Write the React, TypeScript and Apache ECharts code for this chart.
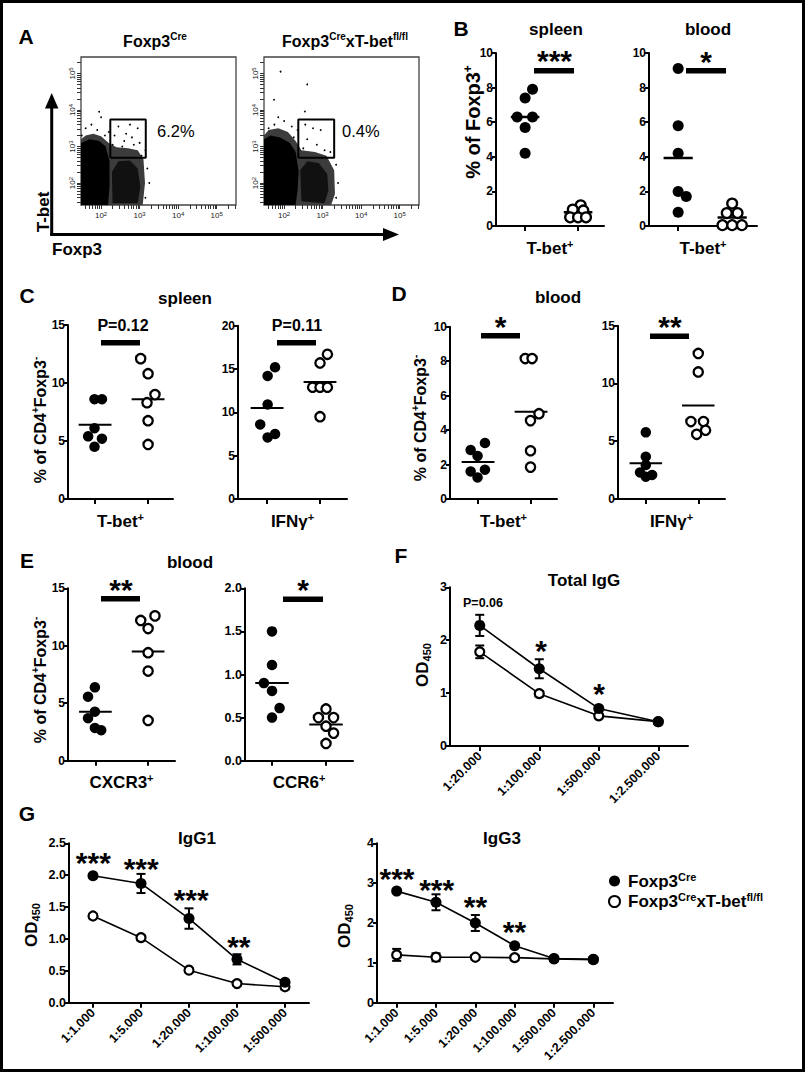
import React, { useEffect, useRef } from 'react';
import * as echarts from 'echarts';

const FONT = '"Liberation Sans", Arial, Helvetica, sans-serif';

// ---------------- Panel A: flow cytometry (log10 units) ----------------
const A_MAJOR = [2, 3, 4, 5];
const A1_GATE = [2.24, 2.69, 3.16, 3.74]; // x1, y1, x2, y2
const A2_GATE = [2.37, 2.69, 3.3, 3.74];
const A1_PCT = '6.2%';
const A2_PCT = '0.4%';
const A1_SPECKLE = [[1.48, 1.4], [1.48, 3.2], [1.6, 3.3], [1.8, 3.35], [2.0, 3.28], [2.2, 3.1], [2.4, 2.98], [2.7, 2.95], [2.95, 2.9], [3.1, 2.65], [3.14, 2.0], [3.08, 1.4]];
const A1_DENSE = [[1.48, 1.4], [1.48, 3.1], [1.7, 3.2], [1.95, 3.15], [2.12, 3.0], [2.22, 2.6], [2.22, 1.9], [2.18, 1.4]];
const A1_CORE = [[2.3, 1.45], [2.28, 2.3], [2.45, 2.6], [2.75, 2.62], [2.95, 2.4], [3.02, 1.9], [2.95, 1.45]];
const A1_DOTS = [[2.45, 3.55], [2.75, 3.6], [2.95, 3.5], [2.35, 3.3], [2.8, 3.25], [2.6, 3.15], [3.0, 3.1], [2.3, 3.05], [2.55, 3.0], [2.85, 3.05], [1.9, 3.45], [1.75, 3.6], [2.0, 3.8], [1.6, 3.5], [2.2, 3.4], [1.95, 3.95], [3.15, 2.9], [3.2, 2.4], [3.25, 2.0], [3.15, 1.6], [2.1, 3.3], [1.5, 3.3], [2.65, 3.35], [3.05, 2.75]];
const A2_SPECKLE = [[1.48, 1.4], [1.48, 3.3], [1.6, 3.45], [1.85, 3.5], [2.1, 3.4], [2.3, 3.15], [2.45, 2.9], [2.8, 2.85], [3.1, 2.75], [3.3, 2.35], [3.32, 1.7], [3.22, 1.4]];
const A2_DENSE = [[1.48, 1.4], [1.48, 3.2], [1.65, 3.3], [1.9, 3.25], [2.15, 3.1], [2.3, 2.85], [2.38, 2.3], [2.35, 1.8], [2.3, 1.4]];
const A2_CORE = [[2.45, 1.5], [2.42, 2.35], [2.6, 2.6], [2.9, 2.55], [3.12, 2.25], [3.15, 1.8], [3.05, 1.45]];
const A2_DOTS = [[1.91, 5.05], [2.6, 4.7], [1.74, 4.28], [2.54, 3.96], [2.55, 3.6], [2.75, 3.5], [2.95, 3.45], [2.6, 3.2], [2.85, 3.05], [3.05, 2.9], [2.5, 2.95], [1.75, 3.6], [2.0, 3.7], [2.2, 3.55], [1.6, 3.5], [2.35, 3.45], [3.35, 2.5], [3.4, 2.0], [3.35, 1.6], [1.85, 3.8], [2.25, 3.25], [3.2, 2.85]];

// ---------------- Panels B-E: dot plots ([jittered category position, value]) ----------------
const B_SPLEEN_CRE = [[1.14, 7.9], [1.0, 7.4], [0.85, 6.3], [1.14, 6.3], [1.0, 5.7], [1.0, 4.2]];
const B_SPLEEN_KO = [[2.05, 1.2], [1.9, 0.95], [2.1, 0.9], [1.85, 0.5], [2.0, 0.5], [2.15, 0.5]];
const B_SPLEEN_MEAN = [6.3, 0.8];
const B_BLOOD_CRE = [[1.0, 9.1], [1.0, 5.8], [1.0, 4.2], [1.0, 2.0], [1.15, 1.7], [1.0, 0.8]];
const B_BLOOD_KO = [[2.0, 1.3], [1.9, 0.75], [2.1, 0.75], [1.82, 0.05], [2.0, 0.05], [2.18, 0.05]];
const B_BLOOD_MEAN = [3.93, 0.49];

const C_TBET_CRE = [[0.99, 8.6], [1.13, 8.6], [0.99, 6.1], [0.87, 5.4], [1.13, 5.2], [0.99, 4.5]];
const C_TBET_KO = [[1.86, 12.1], [2.0, 10.8], [2.13, 9.0], [1.98, 8.3], [2.0, 6.75], [2.0, 4.7]];
const C_TBET_MEAN = [6.4, 8.6];
const C_IFNG_CRE = [[1.15, 15.2], [1.01, 14.2], [1.01, 10.9], [0.87, 8.6], [1.15, 7.5], [1.01, 7.1]];
const C_IFNG_KO = [[2.14, 16.7], [2.0, 15.7], [1.86, 12.9], [2.0, 12.9], [2.14, 12.9], [2.0, 9.5]];
const C_IFNG_MEAN = [10.5, 13.5];

const D_TBET_CRE = [[1.13, 3.25], [0.86, 2.84], [0.99, 2.5], [0.86, 1.6], [1.13, 1.7], [0.99, 1.25]];
const D_TBET_KO = [[1.89, 8.15], [2.02, 8.15], [2.15, 4.95], [1.99, 4.55], [1.99, 2.8], [1.99, 1.85]];
const D_TBET_MEAN = [2.15, 5.06];
const D_IFNG_CRE = [[1.0, 5.77], [1.0, 3.66], [1.0, 2.94], [0.89, 2.3], [1.0, 1.93], [1.12, 2.08]];
const D_IFNG_KO = [[2.0, 12.6], [2.0, 11.0], [1.86, 6.7], [2.1, 6.7], [2.14, 5.95], [1.97, 5.6]];
const D_IFNG_MEAN = [3.09, 8.1];

const E_CXCR3_CRE = [[0.99, 6.38], [0.86, 5.57], [0.99, 4.26], [0.86, 3.7], [0.99, 2.85], [1.11, 2.65]];
const E_CXCR3_KO = [[1.86, 12.2], [2.13, 12.6], [2.0, 11.5], [2.0, 9.4], [2.0, 7.8], [2.0, 3.5]];
const E_CXCR3_MEAN = [4.26, 9.5];
const E_CCR6_CRE = [[1.0, 1.5], [1.0, 1.11], [0.85, 0.9], [1.0, 0.81], [1.14, 0.61], [1.0, 0.5]];
const E_CCR6_KO = [[2.0, 0.6], [1.86, 0.5], [2.14, 0.5], [2.0, 0.4], [2.14, 0.32], [2.0, 0.2]];
const E_CCR6_MEAN = [0.9, 0.42];

// ---------------- Panels F, G: ELISA titrations ----------------
const F_CATS = ['1:20.000', '1:100.000', '1:500.000', '1:2.500.000'];
const F_CRE = [2.28, 1.46, 0.71, 0.46];
const F_CRE_ERR = [0.2, 0.18, 0.04, 0.03];
const F_KO = [1.78, 0.99, 0.57, 0.46];
const F_KO_ERR = [0.12, 0.05, 0.03, 0.02];

const G1_CATS = ['1:1.000', '1:5.000', '1:20.000', '1:100.000', '1:500.000'];
const G1_CRE = [1.99, 1.87, 1.32, 0.68, 0.32];
const G1_CRE_ERR = [0.03, 0.15, 0.16, 0.08, 0.03];
const G1_KO = [1.36, 1.02, 0.51, 0.3, 0.25];
const G1_KO_ERR = [0.03, 0.03, 0.03, 0.03, 0.03];

const G3_CATS = ['1:1.000', '1:5.000', '1:20.000', '1:100.000', '1:500.000', '1:2.500.000'];
const G3_CRE = [2.8, 2.52, 2.0, 1.43, 1.11, 1.09];
const G3_CRE_ERR = [0.05, 0.2, 0.2, 0.05, 0.04, 0.04];
const G3_KO = [1.2, 1.14, 1.14, 1.13, 1.1, 1.08];
const G3_KO_ERR = [0.15, 0.1, 0.05, 0.05, 0.04, 0.04];

// ======================================================================
const CLOUD_FILLS = ['#3c3c3c', '#000', '#111'];
const sup = (base: number) => ({ fontSize: Math.round(base * 0.62), fontWeight: 'bold', fontFamily: FONT, lineHeight: Math.round(base * 0.62), verticalAlign: 'top', color: '#000' });
const bas = (base: number, weight = 'bold') => ({ fontSize: base, fontWeight: weight, fontFamily: FONT, lineHeight: base + 3, color: '#000' });
const richSet = (base: number) => ({ b: bas(base), s: sup(base), d: { ...sup(base), verticalAlign: 'bottom' } });

function buildOption() {
  const grid: any[] = [];
  const xAxis: any[] = [];
  const yAxis: any[] = [];
  const series: any[] = [];
  const graphic: any[] = [];

  const axisLineStyle = { color: '#000', width: 2 };
  const tickStyle = { color: '#000', width: 2 };

  // ---------- Panel A ----------
  const minorTicks: number[] = [];
  for (let n = 1; n <= 5; n++) for (let k = 1; k <= 9; k++) {
    const v = n + Math.log10(k);
    if (v > 1.4 && v < 5.5) minorTicks.push(v);
  }
  const aPanels = [
    { left: 81, gate: A1_GATE, clouds: [A1_SPECKLE, A1_DENSE, A1_CORE], dots: A1_DOTS },
    { left: 264, gate: A2_GATE, clouds: [A2_SPECKLE, A2_DENSE, A2_CORE], dots: A2_DOTS },
  ];
  aPanels.forEach((p) => {
    const gi = grid.length;
    grid.push({ left: p.left, top: 57, width: 155, height: 148, show: true, borderColor: '#444', borderWidth: 1.3, backgroundColor: '#fff' });
    const lab = { fontSize: 8, color: '#222', fontFamily: FONT, rich: { b: { fontSize: 8, color: '#222' }, s: { fontSize: 6, color: '#222', verticalAlign: 'top', lineHeight: 6 } } };
    xAxis.push({ gridIndex: gi, type: 'value', min: 1.48, max: 5.5, axisLine: { show: false }, splitLine: { show: false },
      axisTick: { show: true, customValues: minorTicks, length: 4, lineStyle: { color: '#333', width: 1 } },
      axisLabel: { show: true, customValues: A_MAJOR, margin: 6, formatter: (v: number) => `{b|10}{s|${Math.round(v)}}`, ...lab } });
    yAxis.push({ gridIndex: gi, type: 'value', min: 1.4, max: 5.45, axisLine: { show: false }, splitLine: { show: false },
      axisTick: { show: true, customValues: minorTicks, length: 4, lineStyle: { color: '#333', width: 1 } },
      axisLabel: { show: true, customValues: A_MAJOR, rotate: 90, margin: 5, formatter: (v: number) => `{b|10}{s|${Math.round(v)}}`, ...lab } });
    series.push({
      type: 'custom', xAxisIndex: gi, yAxisIndex: gi, z: 2, silent: true,
      data: p.clouds.map((c, i) => [c[1][0], c[1][1], i]),
      encode: { x: 0, y: 1 },
      renderItem: (params: any, api: any) => {
        const idx = api.value(2);
        const pts = p.clouds[idx].map((q) => api.coord(q));
        return { type: 'polygon', shape: { points: pts }, style: { fill: CLOUD_FILLS[idx] } };
      },
    });
    series.push({ type: 'scatter', xAxisIndex: gi, yAxisIndex: gi, data: p.dots, symbolSize: 1.8, itemStyle: { color: '#000', opacity: 1 }, silent: true, z: 3 });
    const [x1, y1, x2, y2] = p.gate;
    series.push({ type: 'line', xAxisIndex: gi, yAxisIndex: gi, data: [[x1, y1], [x2, y1], [x2, y2], [x1, y2], [x1, y1]], symbol: 'none', lineStyle: { color: '#000', width: 2 }, z: 4, silent: true });
  });

  // ---------- Dot plots B-E ----------
  const dotPanels = [
    { g: [496, 53, 108, 173], ymax: 10, yint: 2, x: [0.45, 2.49], name: ['T-bet', '+'], cre: B_SPLEEN_CRE, ko: B_SPLEEN_KO, mean: B_SPLEEN_MEAN, hw: 0.27, lw: 2.5, size: 11 },
    { g: [649, 53, 108, 173], ymax: 10, yint: 2, x: [0.46, 2.46], name: ['T-bet', '+'], cre: B_BLOOD_CRE, ko: B_BLOOD_KO, mean: B_BLOOD_MEAN, hw: 0.27, lw: 2.5, size: 11 },
    { g: [68, 325, 105, 174], ymax: 15, yint: 5, x: [0.49, 2.47], name: ['T-bet', '+'], cre: C_TBET_CRE, ko: C_TBET_KO, mean: C_TBET_MEAN, hw: 0.31, lw: 2, size: 10.5 },
    { g: [238, 325.7, 109, 173.3], ymax: 20, yint: 5, x: [0.45, 2.51], name: ['IFNγ', '+'], cre: C_IFNG_CRE, ko: C_IFNG_KO, mean: C_IFNG_MEAN, hw: 0.31, lw: 2, size: 10.5 },
    { g: [450, 326.7, 107, 172.3], ymax: 10, yint: 2, x: [0.47, 2.49], name: ['T-bet', '+'], cre: D_TBET_CRE, ko: D_TBET_KO, mean: D_TBET_MEAN, hw: 0.31, lw: 2, size: 10.5 },
    { g: [618, 325.7, 107, 173.3], ymax: 15, yint: 5, x: [0.47, 2.51], name: ['IFNγ', '+'], cre: D_IFNG_CRE, ko: D_IFNG_KO, mean: D_IFNG_MEAN, hw: 0.31, lw: 2, size: 10.5 },
    { g: [68, 588.3, 107, 172.4], ymax: 15, yint: 5, x: [0.48, 2.51], name: ['CXCR3', '+'], cre: E_CXCR3_CRE, ko: E_CXCR3_KO, mean: E_CXCR3_MEAN, hw: 0.31, lw: 2, size: 10.5 },
    { g: [245, 588.3, 108, 172.4], ymax: 2, yint: 0.5, x: [0.5, 2.5], name: ['CCR6', '+'], cre: E_CCR6_CRE, ko: E_CCR6_KO, mean: E_CCR6_MEAN, hw: 0.31, lw: 2, size: 10.5, dec: true },
  ];
  dotPanels.forEach((p) => {
    const gi = grid.length;
    grid.push({ left: p.g[0], top: p.g[1], width: p.g[2], height: p.g[3] });
    xAxis.push({ gridIndex: gi, type: 'value', min: p.x[0], max: p.x[1], splitLine: { show: false },
      axisLine: { show: true, onZero: false, lineStyle: axisLineStyle },
      axisTick: { show: true, customValues: [1, 2], length: 5, lineStyle: tickStyle },
      axisLabel: { show: false },
      name: `{b|${p.name[0]}}{s|${p.name[1]}}`, nameLocation: 'middle', nameGap: 12,
      nameTextStyle: { fontFamily: FONT, fontWeight: 'bold', fontSize: 17, color: '#000', rich: richSet(17) } });
    yAxis.push({ gridIndex: gi, type: 'value', min: 0, max: p.ymax, interval: p.yint, splitLine: { show: false },
      axisLine: { show: true, onZero: false, lineStyle: axisLineStyle },
      axisTick: { show: true, length: 4, lineStyle: tickStyle },
      axisLabel: { fontFamily: FONT, fontWeight: 'bold', fontSize: p.dec ? 12.5 : 12, color: '#000', margin: 3, formatter: (v: number) => (p.dec ? v.toFixed(1) : String(v)) } });
    p.mean.forEach((m, i) => {
      const c = i + 1;
      series.push({ type: 'line', xAxisIndex: gi, yAxisIndex: gi, data: [[c - p.hw, m], [c + p.hw, m]], symbol: 'none', lineStyle: { color: '#000', width: p.lw }, z: 2, silent: true });
    });
    series.push({ type: 'scatter', xAxisIndex: gi, yAxisIndex: gi, data: p.cre, symbolSize: p.size, itemStyle: { color: '#000', opacity: 1 }, z: 3 });
    series.push({ type: 'scatter', xAxisIndex: gi, yAxisIndex: gi, data: p.ko, symbolSize: p.size - 1.2, itemStyle: { color: '#fff', borderColor: '#000', borderWidth: 2.3, opacity: 1 }, z: 3 });
  });

  // ---------- Line plots F, G ----------
  const errSeries = (gi: number, means: number[], errs: number[]) => ({
    type: 'custom', xAxisIndex: gi, yAxisIndex: gi, z: 2, silent: true,
    data: means.map((m, i) => [i, m, errs[i]]),
    encode: { x: 0, y: 1 },
    renderItem: (params: any, api: any) => {
      const i = api.value(0); const m = api.value(1); const e = api.value(2);
      const t = api.coord([i, m + e]); const b = api.coord([i, m - e]);
      const hw = 4.5; const st = { stroke: '#000', lineWidth: 2 };
      return { type: 'group', children: [
        { type: 'line', shape: { x1: t[0], y1: t[1], x2: b[0], y2: b[1] }, style: st },
        { type: 'line', shape: { x1: t[0] - hw, y1: t[1], x2: t[0] + hw, y2: t[1] }, style: st },
        { type: 'line', shape: { x1: b[0] - hw, y1: b[1], x2: b[0] + hw, y2: b[1] }, style: st },
      ] };
    },
  });
  const linePanels = [
    { g: [450, 587.3, 238, 158.7], ymax: 3, yint: 1, cats: F_CATS, cre: F_CRE, creErr: F_CRE_ERR, ko: F_KO, koErr: F_KO_ERR, names: ['creF', 'koF'] },
    { g: [69, 843.3, 240, 159.4], ymax: 2.5, yint: 0.5, cats: G1_CATS, cre: G1_CRE, creErr: G1_CRE_ERR, ko: G1_KO, koErr: G1_KO_ERR, names: ['creG1', 'koG1'], dec: true },
    { g: [377, 843.3, 236, 159.4], ymax: 4, yint: 1, cats: G3_CATS, cre: G3_CRE, creErr: G3_CRE_ERR, ko: G3_KO, koErr: G3_KO_ERR, names: ['cre', 'ko'] },
  ];
  linePanels.forEach((p) => {
    const gi = grid.length;
    grid.push({ left: p.g[0], top: p.g[1], width: p.g[2], height: p.g[3] });
    xAxis.push({ gridIndex: gi, type: 'category', data: p.cats, boundaryGap: true,
      axisLine: { show: true, onZero: false, lineStyle: axisLineStyle },
      axisTick: { show: true, alignWithLabel: true, length: 5, lineStyle: tickStyle },
      axisLabel: { rotate: 45, fontFamily: FONT, fontWeight: 'bold', fontSize: 12.5, color: '#000', margin: 8, interval: 0 } });
    yAxis.push({ gridIndex: gi, type: 'value', min: 0, max: p.ymax, interval: p.yint, splitLine: { show: false },
      axisLine: { show: true, onZero: false, lineStyle: axisLineStyle },
      axisTick: { show: true, length: 4, lineStyle: tickStyle },
      axisLabel: { fontFamily: FONT, fontWeight: 'bold', fontSize: 12.5, color: '#000', margin: 3, formatter: (v: number) => (p.dec ? v.toFixed(1) : String(v)) } });
    series.push(errSeries(gi, p.ko, p.koErr));
    series.push(errSeries(gi, p.cre, p.creErr));
    series.push({ name: p.names[1], type: 'line', xAxisIndex: gi, yAxisIndex: gi, data: p.ko, symbol: 'circle', symbolSize: 9, z: 3,
      lineStyle: { color: '#000', width: 1.6 }, itemStyle: { color: '#fff', borderColor: '#000', borderWidth: 2.2, opacity: 1 } });
    series.push({ name: p.names[0], type: 'line', xAxisIndex: gi, yAxisIndex: gi, data: p.cre, symbol: 'circle', symbolSize: 11, z: 4,
      lineStyle: { color: '#000', width: 1.6 }, itemStyle: { color: '#000', borderColor: '#000', borderWidth: 0, opacity: 1 } });
  });

  // ---------- Texts and annotations ----------
  const txt = (x: number, y: number, text: string, size: number, opts: any = {}) => ({
    type: 'text', x, y, rotation: opts.rot || 0, z: 100, silent: true,
    style: { text, fill: '#000', fontFamily: FONT, fontSize: size, fontWeight: opts.weight || 'bold',
      align: opts.align || 'center', textAlign: opts.align || 'center', verticalAlign: 'middle', textVerticalAlign: 'middle',
      rich: opts.rich },
  });
  const rect = (x1: number, y1: number, x2: number, y2: number) => ({ type: 'rect', z: 100, silent: true, shape: { x: x1, y: y1, width: x2 - x1, height: y2 - y1 }, style: { fill: '#000' } });
  const star = (x: number, y: number, s: string) => txt(x, y + 3.5, s, 30);

  // frame
  graphic.push({ type: 'rect', z: 101, silent: true, shape: { x: 1.5, y: 1.5, width: 802, height: 1069 }, style: { fill: 'none', stroke: '#000', lineWidth: 3 } });
  // panel letters
  [['A', 26, 36], ['B', 461, 28], ['C', 27, 295], ['D', 399, 293], ['E', 27, 560], ['F', 401, 555], ['G', 27, 813]].forEach(([l, x, y]) =>
    graphic.push(txt(x as number, y as number, l as string, 21)));
  // panel A labels
  graphic.push(txt(155, 41, '{b|Foxp3}{s|Cre}', 16, { rich: richSet(16) }));
  graphic.push(txt(345, 41, '{b|Foxp3}{s|Cre}{b|xT-bet}{s|fl/fl}', 16, { rich: richSet(16) }));
  graphic.push(txt(157, 131, A1_PCT, 16.5, { align: 'left', weight: 'normal' }));
  graphic.push(txt(342, 131, A2_PCT, 16.5, { align: 'left', weight: 'normal' }));
  graphic.push(txt(43, 212, 'T-bet', 17, { rot: Math.PI / 2 }));
  graphic.push(txt(52, 249, 'Foxp3', 17, { align: 'left' }));
  graphic.push({ type: 'line', z: 100, silent: true, shape: { x1: 51.7, y1: 235.5, x2: 51.7, y2: 104 }, style: { stroke: '#000', lineWidth: 3 } });
  graphic.push({ type: 'polygon', z: 100, silent: true, shape: { points: [[51.7, 93], [45, 108.5], [58.4, 108.5]] }, style: { fill: '#000' } });
  graphic.push({ type: 'line', z: 100, silent: true, shape: { x1: 50.2, y1: 234.5, x2: 388, y2: 234.5 }, style: { stroke: '#000', lineWidth: 3 } });
  graphic.push({ type: 'polygon', z: 100, silent: true, shape: { points: [[399, 234.5], [383, 228], [383, 241]] }, style: { fill: '#000' } });
  // panel titles
  graphic.push(txt(556, 29, 'spleen', 17));
  graphic.push(txt(708, 29, 'blood', 17));
  graphic.push(txt(185, 298, 'spleen', 17));
  graphic.push(txt(558, 297, 'blood', 17));
  graphic.push(txt(190, 562.5, 'blood', 17));
  graphic.push(txt(584, 580.5, 'Total IgG', 17));
  graphic.push(txt(197, 838, 'IgG1', 17));
  graphic.push(txt(502, 838, 'IgG3', 17));
  // y-axis labels
  const pctRich = richSet(16);
  graphic.push(txt(473, 122, '{b|% of Foxp3}{s|+}', 20, { rot: Math.PI / 2, rich: richSet(20) }));
  graphic.push(txt(40, 420, '{b|% of CD4}{s|+}{b|Foxp3}{s|-}', 16, { rot: Math.PI / 2, rich: pctRich }));
  graphic.push(txt(420, 418, '{b|% of CD4}{s|+}{b|Foxp3}{s|-}', 16, { rot: Math.PI / 2, rich: pctRich }));
  graphic.push(txt(40, 680, '{b|% of CD4}{s|+}{b|Foxp3}{s|-}', 16, { rot: Math.PI / 2, rich: pctRich }));
  const odRich = { b: bas(17), d: { fontSize: 11, fontWeight: 'bold', fontFamily: FONT, lineHeight: 11, verticalAlign: 'bottom', color: '#000' } };
  graphic.push(txt(422, 665, '{b|OD}{d|450}', 17, { rot: Math.PI / 2, rich: odRich }));
  graphic.push(txt(31, 925, '{b|OD}{d|450}', 17, { rot: Math.PI / 2, rich: odRich }));
  graphic.push(txt(344, 926, '{b|OD}{d|450}', 17, { rot: Math.PI / 2, rich: odRich }));
  // significance
  graphic.push(star(554.5, 56.5, '***')); graphic.push(rect(534, 68, 574, 73.5));
  graphic.push(star(706, 57.5, '*')); graphic.push(rect(686, 68, 726, 73.5));
  graphic.push(txt(123, 325.5, 'P=0.12', 16)); graphic.push(rect(101, 340, 140, 345.5));
  graphic.push(txt(297, 325.5, 'P=0.11', 16)); graphic.push(rect(277, 340, 316, 345.5));
  graphic.push(star(500.5, 323, '*')); graphic.push(rect(481, 333, 520, 338.5));
  graphic.push(star(670, 323, '**')); graphic.push(rect(650, 333.5, 689, 339));
  graphic.push(star(121, 585.5, '**')); graphic.push(rect(101, 596, 140, 601.5));
  graphic.push(star(303, 586, '*')); graphic.push(rect(283, 596.5, 323, 602));
  graphic.push(txt(483, 603, 'P=0.06', 12.5));
  graphic.push(star(541, 646.7, '*')); graphic.push(star(599, 690, '*'));
  graphic.push(star(93.3, 858.7, '***')); graphic.push(star(141.2, 865, '***'));
  graphic.push(star(191.2, 896, '***')); graphic.push(star(238.8, 942.5, '**'));
  graphic.push(star(397, 875, '***')); graphic.push(star(436.7, 886, '***'));
  graphic.push(star(475.5, 902.5, '**')); graphic.push(star(514.5, 927.5, '**'));

  return {
    animation: false,
    backgroundColor: '#fff',
    textStyle: { fontFamily: FONT },
    legend: {
      data: ['cre', 'ko'], left: 603, top: 866, orient: 'vertical', itemWidth: 11, itemHeight: 11, itemGap: 2, icon: 'circle', selectedMode: false,
      formatter: (n: string) => (n === 'cre' ? '{f|Foxp3}{s|Cre}' : '{f|Foxp3}{s|Cre}{b|xT-bet}{s|fl/fl}'),
      textStyle: { fontFamily: FONT, fontWeight: 'bold', fontSize: 17, color: '#000', rich: { ...richSet(17), f: { ...bas(17), padding: [0, 0, 0, 3] } } },
    },
    grid, xAxis, yAxis, series, graphic,
  };
}

export default function App() {
  const ref = useRef<HTMLDivElement>(null);
  useEffect(() => {
    if (!ref.current) return;
    const chart = echarts.init(ref.current, undefined, { renderer: 'svg' });
    chart.setOption(buildOption() as any);
    return () => chart.dispose();
  }, []);
  return <div ref={ref} style={{ position: 'absolute', left: 0, top: 0, width: 810, height: 1073, background: '#fff' }} />;
}
